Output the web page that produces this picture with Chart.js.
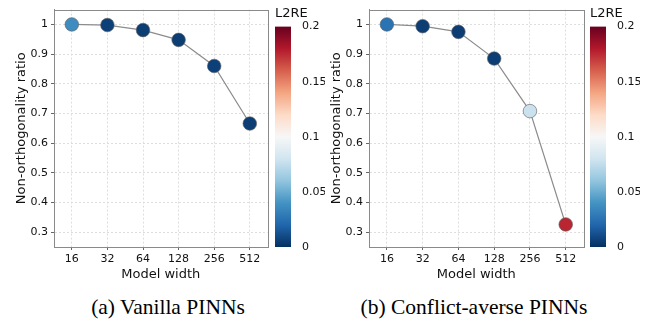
<!DOCTYPE html>
<html>
<head>
<meta charset="utf-8">
<script src="https://cdn.jsdelivr.net/npm/chart.js@4.4.1/dist/chart.umd.min.js"></script>
<style>
  body { margin: 0; background: #fff; width: 652px; height: 323px; position: relative; overflow: hidden; }
  .box { position: absolute; }
  .caption { position: absolute; top: 295px; font-family: "Liberation Serif", serif; font-size: 21.5px; color: #000; white-space: nowrap; transform: translateX(-50%); }
</style>
</head>
<body>
<div class="box" style="left:14px;top:0;width:261px;height:282px"><canvas id="mainA"></canvas></div>
<div class="box" style="left:275px;top:0;width:50px;height:282px"><canvas id="barA"></canvas></div>
<div class="box" style="left:329px;top:0;width:262px;height:282px"><canvas id="mainB"></canvas></div>
<div class="box" style="left:590px;top:0;width:50px;height:282px"><canvas id="barB"></canvas></div>
<div class="caption" style="left:168px">(a) Vanilla PINNs</div>
<div class="caption" style="left:474px">(b) Conflict-averse PINNs</div>
<script>
// données
const widths = ['16', '32', '64', '128', '256', '512'];
const ratioVanilla = [1.0, 0.998, 0.981, 0.948, 0.860, 0.666];
const l2reVanilla = [0.037, 0.006, 0.005, 0.005, 0.006, 0.005];
const ratioConflict = [1.0, 0.994, 0.975, 0.885, 0.708, 0.326];
const l2reConflict = [0.026, 0.005, 0.005, 0.005, 0.078, 0.176];
const yTicks = [0.3, 0.4, 0.5, 0.6, 0.7, 0.8, 0.9, 1];
const cbarTicks = [0, 0.05, 0.1, 0.15, 0.2];
const cbarMin = 0, cbarMax = 0.2;

// RdBu_r
const rdbu = ['#053061', '#2166ac', '#4393c3', '#92c5de', '#d1e5f0', '#f7f7f7',
              '#fddbc7', '#f4a582', '#d6604d', '#b2182b', '#67001f'];

function hexToRgb(h) {
    return [parseInt(h.slice(1, 3), 16), parseInt(h.slice(3, 5), 16), parseInt(h.slice(5, 7), 16)];
}

function cmap(v) {
    let t = (v - cbarMin) / (cbarMax - cbarMin);
    t = Math.max(0, Math.min(1, t)) * (rdbu.length - 1);
    const i = Math.min(Math.floor(t), rdbu.length - 2);
    const f = t - i;
    const a = hexToRgb(rdbu[i]), b = hexToRgb(rdbu[i + 1]);
    const c = a.map((x, k) => Math.round(x + (b[k] - x) * f));
    return 'rgb(' + c.join(',') + ')';
}

const tickFont = { family: 'DejaVu Sans', size: 11 };
const titleFont = { family: 'DejaVu Sans', size: 13 };

// cadre gris autour de la zone de tracé
const framePlugin = {
    id: 'frame',
    afterDraw(chart) {
        const { ctx, chartArea: a } = chart;
        ctx.save();
        ctx.strokeStyle = '#8a8a8a';
        ctx.lineWidth = 1;
        ctx.strokeRect(Math.round(a.left) + 0.5, Math.round(a.top) + 0.5,
                       Math.round(a.right - a.left), Math.round(a.bottom - a.top));
        ctx.restore();
    }
};

function createPanel(canvasId, ratios, l2re) {
    new Chart(document.getElementById(canvasId), {
        type: 'line',
        data: {
            labels: widths,
            datasets: [{
                data: ratios,
                borderColor: '#8c8c8c',
                borderWidth: 1.2,
                pointRadius: 6.8,
                pointHoverRadius: 6.8,
                pointBackgroundColor: l2re.map(cmap),
                pointBorderColor: '#5e5e5e',
                pointBorderWidth: 0.6,
                tension: 0,
                fill: false
            }]
        },
        options: {
            responsive: true,
            maintainAspectRatio: false,
            animation: false,
            layout: { padding: { top: 7, right: 4, left: 0, bottom: 0 } },
            plugins: { legend: { display: false }, tooltip: { enabled: false } },
            scales: {
                x: {
                    offset: true,
                    grid: { color: '#dedede', tickLength: 3, tickColor: '#666' },
                    border: { display: true, color: '#8a8a8a', dash: [2, 2] },
                    ticks: { font: tickFont, color: '#111', padding: 3, maxRotation: 0 },
                    title: { display: true, text: 'Model width', font: titleFont, color: '#111', padding: { top: 0, bottom: 0 } },
                    afterFit(scale) { scale.height = 35; }
                },
                y: {
                    min: 0.25,
                    max: 1.05,
                    afterBuildTicks(scale) { scale.ticks = yTicks.map(v => ({ value: v })); },
                    grid: { color: '#dedede', tickLength: 3, tickColor: '#666' },
                    border: { display: true, color: '#8a8a8a', dash: [2, 2] },
                    ticks: {
                        font: tickFont, color: '#111', padding: 3,
                        callback: v => String(Number(v.toFixed(2)))
                    },
                    title: { display: true, text: 'Non-orthogonality ratio', font: titleFont, color: '#111', padding: { top: 0, bottom: 2 } },
                    afterFit(scale) { scale.width = 40; }
                }
            }
        },
        plugins: [framePlugin]
    });
}

function createColorbar(canvasId) {
    new Chart(document.getElementById(canvasId), {
        type: 'bar',
        data: {
            labels: [''],
            datasets: [{
                data: [[cbarMin, cbarMax]],
                barPercentage: 1,
                categoryPercentage: 1,
                borderWidth: 0,
                backgroundColor(context) {
                    const area = context.chart.chartArea;
                    if (!area) return '#888';
                    const g = context.chart.ctx.createLinearGradient(0, area.bottom, 0, area.top);
                    rdbu.forEach((c, i) => g.addColorStop(i / (rdbu.length - 1), c));
                    return g;
                }
            }]
        },
        options: {
            responsive: true,
            maintainAspectRatio: false,
            animation: false,
            layout: { padding: { top: 0, right: 0, left: 0, bottom: 35 } },
            plugins: {
                legend: { display: false },
                tooltip: { enabled: false },
                title: {
                    display: true, text: 'L2RE', align: 'start',
                    font: { family: 'DejaVu Sans', size: 13, weight: 'normal' }, color: '#111',
                    padding: { top: 6, bottom: 5 }
                }
            },
            scales: {
                x: { display: false },
                y: {
                    position: 'right',
                    min: cbarMin,
                    max: cbarMax,
                    afterBuildTicks(scale) { scale.ticks = cbarTicks.map(v => ({ value: v })); },
                    grid: { display: false },
                    border: { display: false },
                    ticks: { font: tickFont, color: '#111', padding: 3, callback: v => String(Number(v.toFixed(2))) },
                    afterFit(scale) { scale.width = 34; }
                }
            }
        }
    });
}

createPanel('mainA', ratioVanilla, l2reVanilla);
createColorbar('barA');
createPanel('mainB', ratioConflict, l2reConflict);
createColorbar('barB');
</script>
</body>
</html>
